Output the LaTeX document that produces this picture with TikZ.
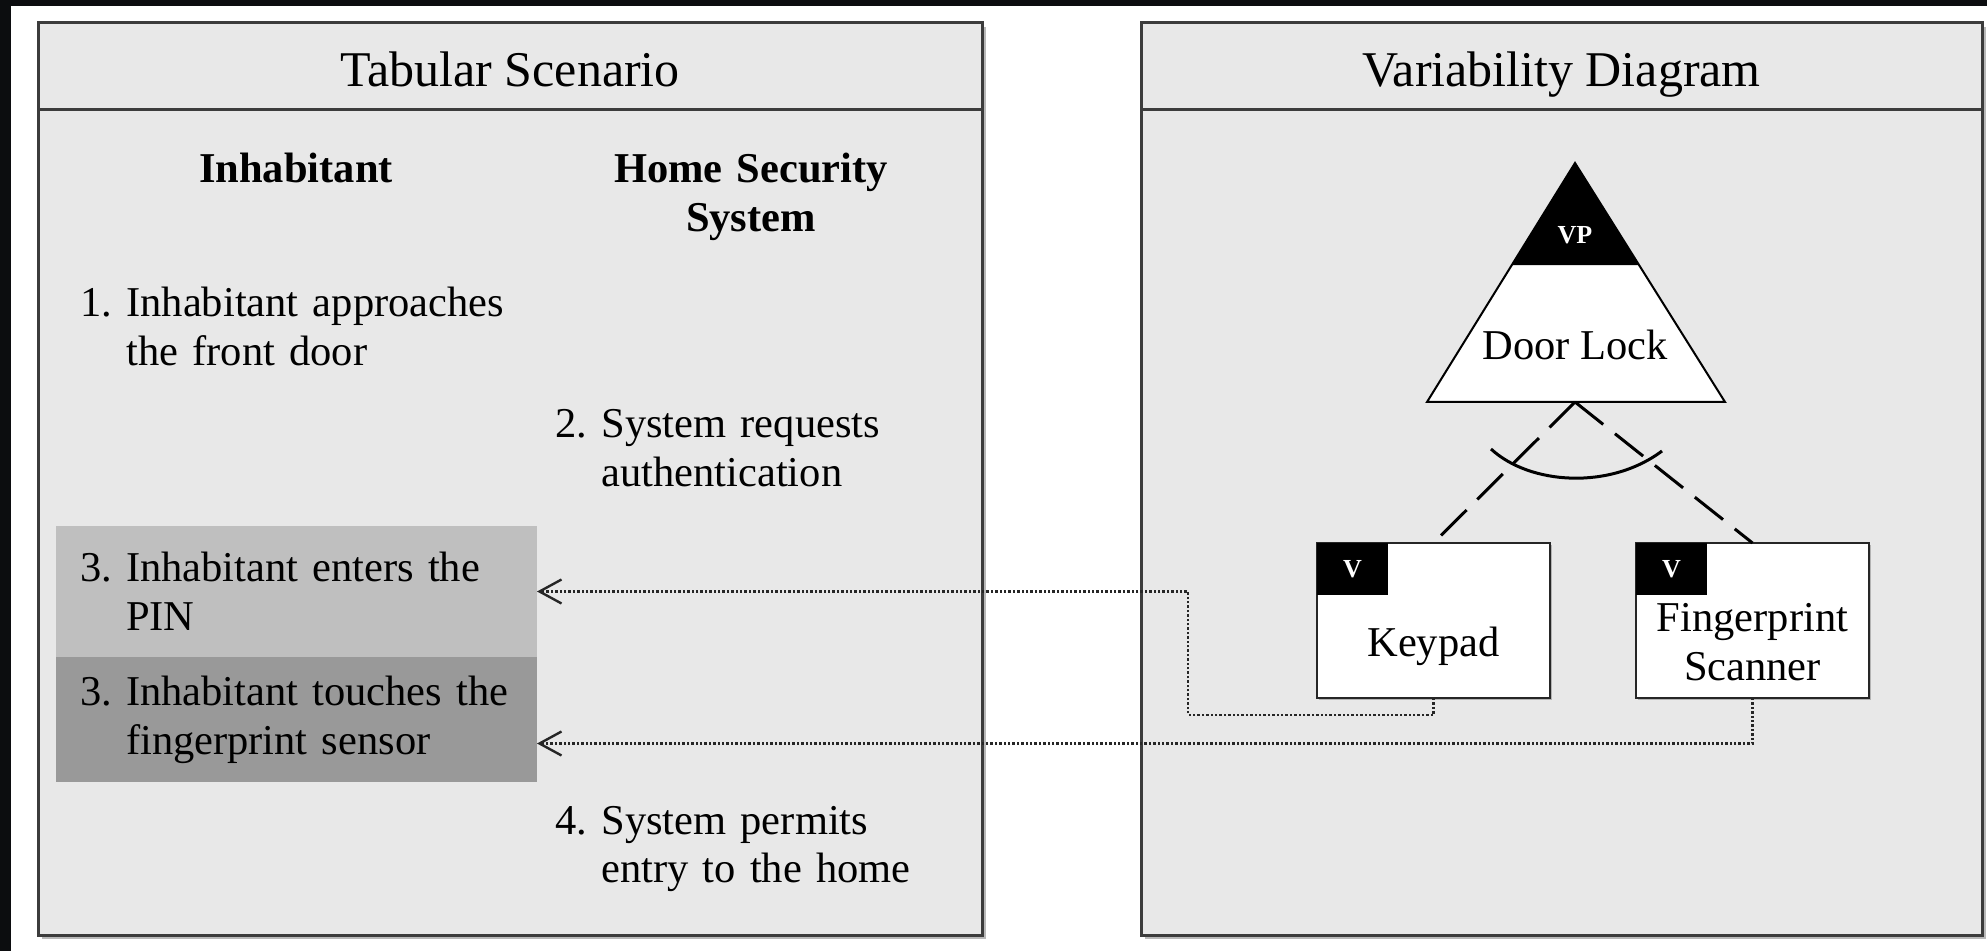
\documentclass[tikz,border=0pt]{standalone}
\usepackage{fontspec}
\setmainfont{Liberation Serif}
\usepackage{tikz}
\usetikzlibrary{arrows.meta,calc,shadows,positioning}
\definecolor{panel-gray}{RGB}{232,232,232}
\definecolor{pin-gray}{RGB}{191,191,191}
\definecolor{touch-gray}{RGB}{153,153,153}
\definecolor{frame-gray}{RGB}{60,60,60}
\definecolor{slide-black}{RGB}{12,13,15}
\newcommand{\bodysize}{\fontsize{21.25pt}{24.5pt}\selectfont}
\newcommand{\titlesize}{\fontsize{25pt}{29pt}\selectfont}
\newcommand{\tagsize}{\fontsize{13pt}{15pt}\selectfont\bfseries}
\tikzset{
    panel-box/.style = {draw=frame-gray, fill=panel-gray, line width=1.5pt, rectangle, outer sep=0pt, inner sep=0pt, anchor=north west,
        drop shadow={shadow xshift=2pt, shadow yshift=-2pt, opacity=0.55}},
    panel-title/.style = {draw=frame-gray, fill=panel-gray, line width=1.5pt, rectangle, outer sep=0pt, anchor=north west, minimum height=43.5pt, text height=20.5pt, text depth=0pt, font=\titlesize},
    step-text/.style = {inner sep=0pt, anchor=base west, text width=215pt, align=left, font=\bodysize},
    step-box/.style = {inner xsep=12pt, inner ysep=0pt, outer sep=0pt, anchor=north west, minimum width=240.5pt, text width=216.5pt, align=left, font=\bodysize},
    actor-head/.style = {inner sep=0pt, anchor=base, text width=160pt, align=center, font=\bodysize\bfseries},
    variant-box/.style = {draw=black!85, fill=white, line width=1pt, rectangle, outer sep=0pt, minimum width=116.5pt, minimum height=77.5pt, anchor=north west,
        drop shadow={shadow xshift=0.8pt, shadow yshift=-1.2pt, opacity=0.5}},
    variant-tag/.style = {fill=black, text=white, outer sep=0pt, inner sep=0pt, minimum width=35.5pt, minimum height=26pt, anchor=north west, font=\tagsize},
    variant-name/.style = {inner sep=0pt, anchor=base, text width=110pt, align=center, font=\bodysize},
    alt-link/.style = {line width=1.5pt, dash pattern=on 18pt off 7.5pt},
    trace/.style = {draw=black!85, line width=1.2pt, densely dotted, -{Straight Barb[length=11pt, width=12pt, line width=1.2pt]}},
}

\begin{document}
\begin{tikzpicture}[x=0.5pt, y=-0.5pt]
\useasboundingbox (0,0) rectangle (1987,951);
\fill[slide-black] (0,0) rectangle (1987,951);
\fill[white] (11,6) rectangle (1987,951);

% scenario side
\node[panel-box, minimum width=472pt, minimum height=456pt] (scenario) at (38,23) {};
\node[panel-title, minimum width=472pt] (scenario-head) at (scenario.north west) {Tabular Scenario};
\node[actor-head] (inhabitant) at (296,183) {Inhabitant};
\node[actor-head] (system) at (751,183) {Home Security\\System};
\node[step-text] (step-1) at (80,317) {1.~Inhabitant approaches\\\hphantom{1.~}the front door};
\node[step-text] (step-2) at (555,438) {2.~System requests\\\hphantom{2.~}authentication};
\node[step-box, fill=pin-gray, minimum height=65.5pt] (step-pin) at (56,526) {3.~Inhabitant enters the\\\hphantom{3.~}PIN};
\node[step-box, fill=touch-gray, minimum height=62.5pt] (step-touch) at (step-pin.south west) {3.~Inhabitant touches the\\\hphantom{3.~}fingerprint sensor};
\node[step-text] (step-4) at (555,834) {4.~System permits\\\hphantom{4.~}entry to the home};

% variability side
\node[panel-box, minimum width=420.5pt, minimum height=456pt] (variability) at (1141,23) {};
\node[panel-title, minimum width=420.5pt] (variability-head) at (variability.north west) {Variability Diagram};
\coordinate (lock-top) at (1575,163);
\coordinate (lock-left) at (1427,402);
\coordinate (lock-right) at (1725,402);
\coordinate (lock-base) at (1575,402);
\filldraw[fill=white, line width=1pt] (lock-top) -- (lock-left) -- (lock-right) -- cycle;
\fill ($(lock-top)!0.427!(lock-left)$) -- (lock-top) -- ($(lock-top)!0.427!(lock-right)$) -- cycle;
\node[text=white, font=\tagsize] (vp) at (1575,235) {VP};
\node[font=\bodysize, anchor=base] (door-lock) at (1575,360) {Door Lock};

\node[variant-box] (keypad) at (1317,543) {};
\node[variant-box] (scanner) at (1636,543) {};
\node[variant-tag] (keypad-tag) at (keypad.north west) {V};
\node[variant-tag] (scanner-tag) at (scanner.north west) {V};
\node[variant-name] (keypad-name) at ([yshift=-18pt]keypad.center) {Keypad};
\node[variant-name] (scanner-name) at ([yshift=-5.5pt]scanner.center) {Fingerprint\\Scanner};

\draw[alt-link] (lock-base) -- (keypad.north);
\draw[alt-link] (lock-base) -- (scanner.north);
\draw[line width=1.5pt] ([shift={(-84,47)}]lock-base) .. controls ([shift={(-45,83)}]lock-base) and ([shift={(35,88)}]lock-base) .. ([shift={(87,49)}]lock-base);

\coordinate (keypad-via) at (1188,715);
\draw[trace] (keypad.south) |- (keypad-via) |- (step-pin.east);
\draw[trace] (scanner.south) |- ([yshift=-12pt]step-touch.east);
\end{tikzpicture}
\end{document}
